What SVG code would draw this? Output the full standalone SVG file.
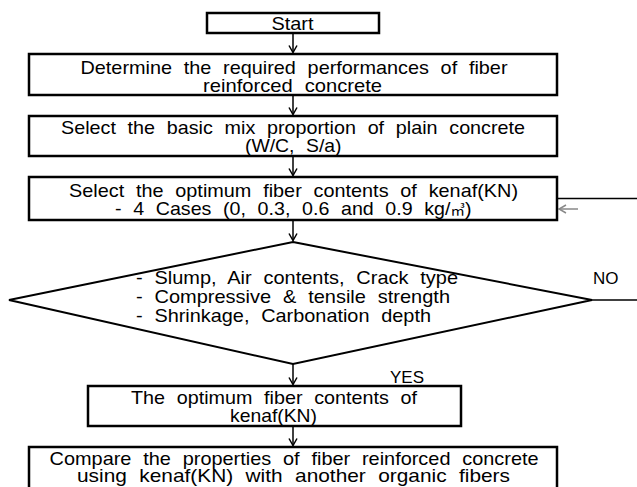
<svg xmlns="http://www.w3.org/2000/svg" width="637" height="487" viewBox="0 0 637 487">
<defs>
<style>
.box{fill:#fff;stroke:#000;stroke-width:2.5}
.dia{fill:#fff;stroke:#000;stroke-width:2}
.t{font-family:"Liberation Sans","Noto Sans CJK KR",sans-serif;font-size:19px;fill:#000;word-spacing:6px}
.u{font-family:"Noto Sans CJK KR",sans-serif;font-size:14px}
.s{font-family:"Liberation Sans",sans-serif;font-size:17px;fill:#000}
.c{stroke:#000;stroke-width:1.5;fill:none}
.g{stroke:#888;stroke-width:1.5;fill:none}
</style>
<marker id="ah" viewBox="-9 -5 10 10" refX="0" refY="0" markerWidth="10" markerHeight="10" markerUnits="userSpaceOnUse" orient="auto"><path d="M-7,-4 L0,0 L-7,4" fill="none" stroke="#000" stroke-width="1.5"/></marker>
<marker id="ahg" viewBox="-9 -5 10 10" refX="0" refY="0" markerWidth="10" markerHeight="10" markerUnits="userSpaceOnUse" orient="auto"><path d="M-7,-4 L0,0 L-7,4" fill="none" stroke="#888" stroke-width="1.5"/></marker>
</defs>
<rect width="637" height="487" fill="#fff"/>
<g id="connectors">
<line class="c" x1="293" y1="33" x2="293" y2="52.5" marker-end="url(#ah)"/>
<line class="c" x1="293" y1="95" x2="293" y2="114.5" marker-end="url(#ah)"/>
<line class="c" x1="293" y1="156" x2="293" y2="175.5" marker-end="url(#ah)"/>
<line class="c" x1="293" y1="220" x2="293" y2="240.5" marker-end="url(#ah)"/>
<line class="c" x1="293" y1="364" x2="293" y2="384.5" marker-end="url(#ah)"/>
<line class="c" x1="293" y1="426" x2="293" y2="445.5" marker-end="url(#ah)"/>
<line class="c" x1="592" y1="300" x2="637" y2="300"/>
<line class="c" x1="558" y1="198.5" x2="637" y2="198.5"/>
<line class="g" x1="578" y1="209" x2="559" y2="209" marker-end="url(#ahg)"/>
<text class="s" x="593" y="284">NO</text>
<text class="s" x="390" y="383">YES</text>
</g>
<g id="start">
<rect class="box" x="207" y="13" width="172" height="20"/>
<text class="t" x="271.5" y="30" textLength="42" lengthAdjust="spacingAndGlyphs">Start</text>
</g>
<g id="determine">
<rect class="box" x="29" y="54" width="528" height="41"/>
<text class="t" x="80.5" y="73.5" textLength="427" lengthAdjust="spacingAndGlyphs">Determine the required performances of fiber</text>
<text class="t" x="203" y="91.5" textLength="179" lengthAdjust="spacingAndGlyphs">reinforced concrete</text>
</g>
<g id="basic-mix">
<rect class="box" x="29" y="116" width="528" height="40"/>
<text class="t" x="61" y="134" textLength="464" lengthAdjust="spacingAndGlyphs">Select the basic mix proportion of plain concrete</text>
<text class="t" x="245" y="152" textLength="96.5" lengthAdjust="spacingAndGlyphs">(W/C, S/a)</text>
</g>
<g id="fiber-contents">
<rect class="box" x="29" y="177" width="528" height="43"/>
<text class="t" x="69" y="197" textLength="449" lengthAdjust="spacingAndGlyphs">Select the optimum fiber contents of kenaf(KN)</text>
<text class="t" x="115" y="215" textLength="356.5" lengthAdjust="spacingAndGlyphs">- 4 Cases (0, 0.3, 0.6 and 0.9 kg/<tspan class="u">㎥</tspan>)</text>
</g>
<g id="decision">
<polygon class="dia" points="293,242 592,300 293,364 9,300"/>
<text class="t" x="136" y="284" textLength="322" lengthAdjust="spacingAndGlyphs">- Slump, Air contents, Crack type</text>
<text class="t" x="136" y="303" textLength="314" lengthAdjust="spacingAndGlyphs">- Compressive &amp; tensile strength</text>
<text class="t" x="136" y="322" textLength="295" lengthAdjust="spacingAndGlyphs">- Shrinkage, Carbonation depth</text>
</g>
<g id="optimum">
<rect class="box" x="88" y="386" width="373" height="40"/>
<text class="t" x="131" y="404" textLength="286" lengthAdjust="spacingAndGlyphs">The optimum fiber contents of</text>
<text class="t" x="230" y="421.5" textLength="87" lengthAdjust="spacingAndGlyphs">kenaf(KN)</text>
</g>
<g id="compare">
<rect class="box" x="29" y="447" width="528" height="45"/>
<text class="t" x="49.6" y="465" textLength="489" lengthAdjust="spacingAndGlyphs">Compare the properties of fiber reinforced concrete</text>
<text class="t" x="77" y="482" textLength="433" lengthAdjust="spacingAndGlyphs">using kenaf(KN) with another organic fibers</text>
</g>
</svg>
